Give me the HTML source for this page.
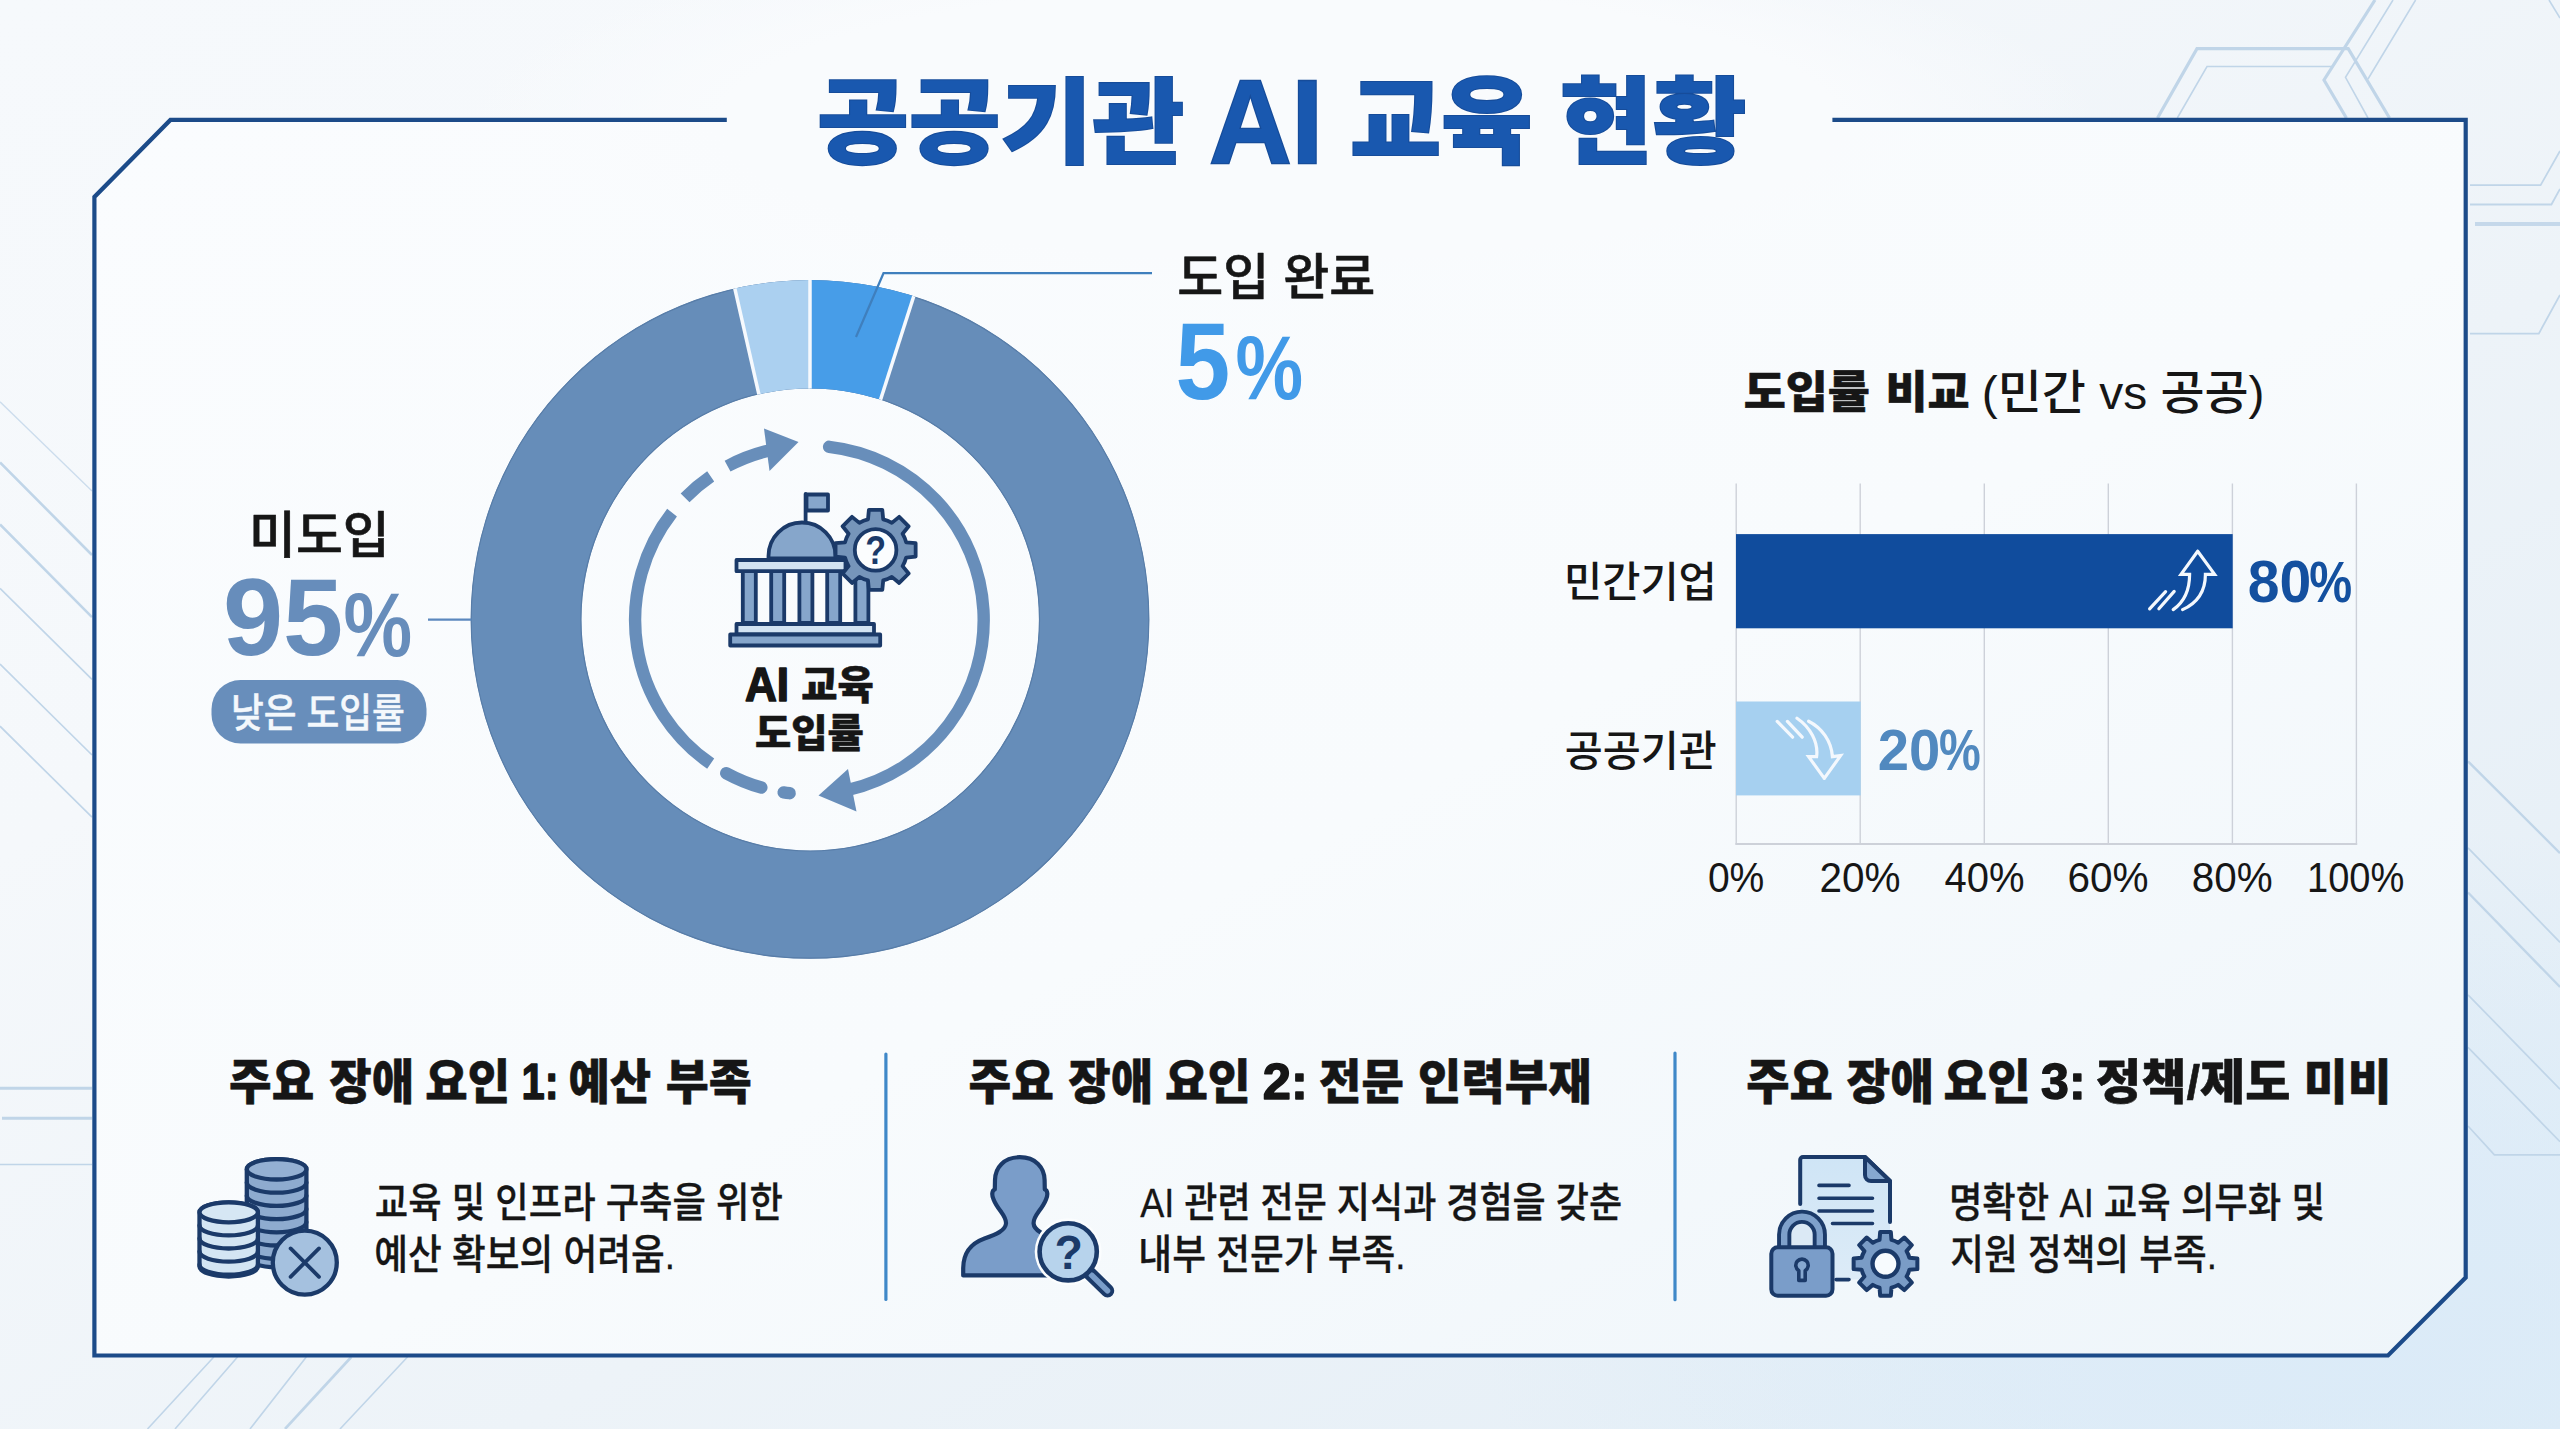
<!DOCTYPE html>
<html lang="ko">
<head>
<meta charset="utf-8">
<title>공공기관 AI 교육 현황</title>
<style>
html,body{margin:0;padding:0;background:#f1f6fa;overflow:hidden}
svg{display:block}
text{font-family:"Liberation Sans", "Noto Sans CJK KR", sans-serif;}
</style>
</head>
<body>
<svg width="2560" height="1429" viewBox="0 0 2560 1429">
<defs>
<linearGradient id="bgG" x1="0" y1="0" x2="1" y2="1">
<stop offset="0" stop-color="#f6f9fc"/><stop offset="0.3" stop-color="#f5f8fb"/><stop offset="0.6" stop-color="#edf3f8"/><stop offset="1" stop-color="#e2edf6"/>
</linearGradient>
<linearGradient id="panelG" x1="0" y1="0" x2="1" y2="1">
<stop offset="0" stop-color="#fafcfe"/><stop offset="0.55" stop-color="#f8fbfd"/><stop offset="1" stop-color="#eef5fa"/>
</linearGradient>
<radialGradient id="titleG" cx="0.5" cy="0.5" r="0.5">
<stop offset="0" stop-color="#f9fbfd" stop-opacity="1"/><stop offset="0.68" stop-color="#f9fbfd" stop-opacity="1"/><stop offset="1" stop-color="#f9fbfd" stop-opacity="0"/>
</radialGradient>
<radialGradient id="glowG" cx="0.93" cy="0.93" r="0.35">
<stop offset="0" stop-color="#d9eaf8" stop-opacity="0.8"/><stop offset="1" stop-color="#d3e8f8" stop-opacity="0"/>
</radialGradient>
</defs>
<rect width="2560" height="1429" fill="url(#bgG)"/>
<rect width="2560" height="1429" fill="url(#glowG)"/>
<g id="deco" fill="none" stroke="#c0d5e8" stroke-linecap="butt">
<path d="M2157.5 118L2197 48.6H2348.2L2389.5 118M2375 0L2324 80L2346.4 118" stroke-width="3.2"/>
<path d="M2177.3 118L2207 66.5H2332M2393 0L2345.5 77.3L2368 118M2415.6 0L2368 79" stroke-width="1.6"/>
<path d="M2549 0L2560 18" stroke-width="1.6"/>
<path d="M2470 185.2H2540.6L2560 151M2470 204.5H2551.4L2560 189M2470 333.6H2538.8L2560 295" stroke-width="1.8"/>
<path d="M2475 224H2560" stroke-width="4" opacity="0.9"/>
<path d="M0 401.8L92 491" stroke-width="1.3" opacity="0.8"/>
<path d="M0 462.4L92 555M0 524.5L92 617.2" stroke-width="2.6"/>
<path d="M0 588.4L92 679.4M0 664L92 755M0 726.2L92 817.2" stroke-width="1.7"/>
<path d="M0 1088.3H92M2 1118.3H92" stroke-width="3"/>
<path d="M0 1164.5H92" stroke-width="1.6"/>
<path d="M213.8 1357L147.5 1429M237.5 1357L175 1429M306.3 1357L250 1429M407.5 1357L340 1429" stroke-width="1.6"/>
<path d="M351.3 1357L285 1429" stroke-width="2.6"/>
<path d="M2468 761.3L2560 853.1M2468 892.5L2560 986.9" stroke-width="2.4"/>
<path d="M2468 847.9L2560 942.3M2468 994.8L2560 1089.2M2468 1047.3L2560 1141.7M2468 1126L2494.4 1154.8H2560" stroke-width="1.7"/>
</g>

<polygon points="170.4,119.9 2465.7,119.9 2465.7,1277.6 2388,1355.5 94.4,1355.5 94.4,196.9" fill="url(#panelG)"/>
<ellipse cx="1280" cy="122" rx="820" ry="200" fill="url(#titleG)"/>
<path d="M726.8 119.9H170.4L94.4 196.9V1355.5H2388L2465.7 1277.6V119.9H1832.4" fill="none" stroke="#1c4b89" stroke-width="4.2" stroke-linejoin="miter"/>

<g id="donut">
<defs><clipPath id="ringClip"><path d="M470.6 619.4A339.4 339.4 0 1 1 1149.4 619.4A339.4 339.4 0 1 1 470.6 619.4ZM581.5 619.5A228.7 230.8 0 1 0 1038.9 619.5A228.7 230.8 0 1 0 581.5 619.5Z" clip-rule="evenodd"/></clipPath></defs>
<g clip-path="url(#ringClip)">
<path d="M470.6 619.4A339.4 339.4 0 1 1 1149.4 619.4A339.4 339.4 0 1 1 470.6 619.4ZM581.5 619.5A228.7 230.8 0 1 0 1038.9 619.5A228.7 230.8 0 1 0 581.5 619.5Z" fill-rule="evenodd" fill="#668db9" stroke="#587da8" stroke-width="2.4"/>
<path d="M810.0 619.4L716.95 209.84L810.00 199.40Z" fill="#abd0f0"/>
<path d="M810.0 619.4L810.00 199.40L938.39 219.51Z" fill="#479de8"/>
<line x1="810.0" y1="619.4" x2="716.95" y2="209.84" stroke="#f6f9fd" stroke-width="3.5"/>
<line x1="810.0" y1="619.4" x2="810.00" y2="199.40" stroke="#f6f9fd" stroke-width="3.5"/>
<line x1="810.0" y1="619.4" x2="938.39" y2="219.51" stroke="#f6f9fd" stroke-width="3.5"/>
</g>
<path d="M1152 273.2H883.5L856 337" fill="none" stroke="#3f7fbd" stroke-width="2.2"/>
<line x1="428" y1="619.6" x2="471.5" y2="619.6" stroke="#5b88be" stroke-width="2.2"/>
<g fill="none" stroke="#688eba" stroke-width="12.4">
<path d="M829.13 446.82A174.3 174.3 0 0 1 848.61 789.83" stroke-linecap="round"/>
<path d="M710.68 763.65A174.3 174.3 0 0 1 672.05 512.69"/>
<path d="M761.36 787.55A174.3 174.3 0 0 1 726.23 773.18" stroke-linecap="round"/>
<path d="M789.67 793.18A174.3 174.3 0 0 1 783.64 792.39" stroke-linecap="round"/>
<path d="M685.08 497.83A174.3 174.3 0 0 1 710.68 476.35"/>
<path d="M727.57 466.10A174.3 174.3 0 0 1 770.19 450.17"/>
</g>
<polygon points="798.5,442 764,428.5 769.5,471" fill="#688eba"/>
<polygon points="818.5,795.5 848,769 856.5,811.5" fill="#688eba"/>
<rect x="211.5" y="680" width="215" height="63.4" rx="29" ry="29" fill="#688ebb"/>
</g>

<g id="chart">
<line x1="1736.2" y1="483.5" x2="1736.2" y2="844.5" stroke="#cdd1d9" stroke-width="1.4"/>
<line x1="1860.2" y1="483.5" x2="1860.2" y2="844.5" stroke="#cdd1d9" stroke-width="1.4"/>
<line x1="1984.3" y1="483.5" x2="1984.3" y2="844.5" stroke="#cdd1d9" stroke-width="1.4"/>
<line x1="2108.3" y1="483.5" x2="2108.3" y2="844.5" stroke="#cdd1d9" stroke-width="1.4"/>
<line x1="2232.4" y1="483.5" x2="2232.4" y2="844.5" stroke="#cdd1d9" stroke-width="1.4"/>
<line x1="2356.4" y1="483.5" x2="2356.4" y2="844.5" stroke="#cdd1d9" stroke-width="1.4"/>
<line x1="1735.4" y1="844" x2="2357.2" y2="844" stroke="#cdd1d9" stroke-width="1.8"/>
<rect x="1736" y="534.1" width="496.7" height="94.2" fill="#104c9d"/>
<rect x="1736" y="701.5" width="124.7" height="93.9" fill="#a6d0f0"/>
</g>
<line x1="885.9" y1="1054" x2="885.9" y2="1299.5" stroke="#3f88c8" stroke-width="3.2" stroke-linecap="round"/>
<line x1="1675" y1="1053" x2="1675" y2="1299.7" stroke="#3f88c8" stroke-width="3.2" stroke-linecap="round"/>

<g id="ic-building" stroke="#1b3a69" stroke-width="3.8" stroke-linejoin="round" stroke-linecap="round">
<line x1="805.6" y1="494" x2="805.6" y2="523" />
<rect x="806.5" y="494.5" width="21.5" height="16" fill="#86a6cb"/>
<path d="M768.5 558.5V556A33.5 33.5 0 0 1 835.5 556V558.5Z" fill="#86a6cb"/>
<rect x="742.8" y="571" width="13" height="52" fill="#86a6cb"/>
<rect x="771.2" y="571" width="13" height="52" fill="#86a6cb"/>
<rect x="799.4" y="571" width="13" height="52" fill="#86a6cb"/>
<rect x="827.2" y="571" width="13" height="52" fill="#86a6cb"/>
<rect x="855.4" y="571" width="13" height="52" fill="#86a6cb"/>
<rect x="736.5" y="560" width="109" height="11.2" fill="#d2e3f2"/>
<rect x="736.5" y="624" width="137.5" height="10.5" fill="#d2e3f2"/>
<rect x="730.2" y="634.5" width="150" height="11" fill="#86a6cb"/>
<path d="M867.98 519.34L868.90 509.86L882.30 509.86L883.22 519.34A31.5 31.5 0 0 1 891.82 522.90L899.18 516.85L908.65 526.32L902.60 533.68A31.5 31.5 0 0 1 906.16 542.28L915.64 543.20L915.64 556.60L906.16 557.52A31.5 31.5 0 0 1 902.60 566.12L908.65 573.48L899.18 582.95L891.82 576.90A31.5 31.5 0 0 1 883.22 580.46L882.30 589.94L868.90 589.94L867.98 580.46A31.5 31.5 0 0 1 859.38 576.90L852.02 582.95L842.55 573.48L848.60 566.12A31.5 31.5 0 0 1 845.04 557.52L835.56 556.60L835.56 543.20L845.04 542.28A31.5 31.5 0 0 1 848.60 533.68L842.55 526.32L852.02 516.85L859.38 522.90A31.5 31.5 0 0 1 867.98 519.34Z" fill="#7695ba"/>
<circle cx="875.6" cy="549.9" r="20.8" fill="#fbfdfe"/>
</g>
<text transform="translate(875.60 564.00) scale(0.82 1)" text-anchor="middle" font-weight="700" font-size="41.48" fill="#1b3a69" stroke="none">?</text>
<g id="ic-coins" stroke="#1b3a69" stroke-width="4.3" stroke-linejoin="round" stroke-linecap="round">
<path d="M246.8 1169.3V1257A29.8 10.2 0 0 0 306.40000000000003 1257V1169.3A29.8 10.2 0 0 0 246.8 1169.3Z" fill="#8eabcf"/>
<ellipse cx="276.6" cy="1169.3" rx="29.8" ry="10.2" fill="#94b0d3"/>
<path d="M246.8 1182.5A29.8 10.2 0 0 0 306.40000000000003 1182.5" fill="none"/>
<path d="M246.8 1195.7A29.8 10.2 0 0 0 306.40000000000003 1195.7" fill="none"/>
<path d="M246.8 1208.8999999999999A29.8 10.2 0 0 0 306.40000000000003 1208.8999999999999" fill="none"/>
<path d="M246.8 1222.1A29.8 10.2 0 0 0 306.40000000000003 1222.1" fill="none"/>
<path d="M246.8 1235.3A29.8 10.2 0 0 0 306.40000000000003 1235.3" fill="none"/>
<path d="M246.8 1248.5A29.8 10.2 0 0 0 306.40000000000003 1248.5" fill="none"/>
<path d="M199.5 1212.3V1266.5A29.2 10.0 0 0 0 257.9 1266.5V1212.3A29.2 10.0 0 0 0 199.5 1212.3Z" fill="#d3e5f3"/>
<ellipse cx="228.7" cy="1212.3" rx="29.2" ry="10.0" fill="#d6e7f4"/>
<path d="M199.5 1225.3999999999999A29.2 10.0 0 0 0 257.9 1225.3999999999999" fill="none"/>
<path d="M199.5 1238.5A29.2 10.0 0 0 0 257.9 1238.5" fill="none"/>
<path d="M199.5 1251.6A29.2 10.0 0 0 0 257.9 1251.6" fill="none"/>
<path d="M199.5 1264.7A29.2 10.0 0 0 0 257.9 1264.7" fill="none"/>
<circle cx="304.8" cy="1262.6" r="32" fill="#a5c1df"/>
<path d="M290.6 1248.4L319 1276.8M319 1248.4L290.6 1276.8" fill="none" stroke-width="3.8"/>
</g>
<g id="ic-person" stroke="#1b3a69" stroke-width="4.2" stroke-linejoin="round" stroke-linecap="round">
<path d="M1019.8 1157.2C1004 1157.2 995.2 1167.5 995 1180 L994.8 1189.5C991.8 1190.2 991.6 1195.5 993.6 1199.5 C995.5 1204.5 998.6 1208.5 1001.2 1212 C1004.5 1216.5 1006.2 1220 1006 1223.5 C1005.5 1230.5 996 1234.5 984.5 1238.5 C971 1243.5 963.4 1252 963.2 1268 L963.2 1275.4 H1076.4 L1076.4 1268 C1076.2 1252 1068.6 1243.5 1055.1 1238.5 C1043.6 1234.5 1034.1 1230.5 1033.6 1223.5 C1033.4 1220 1035.1 1216.5 1038.4 1212 C1041 1208.5 1044.1 1204.5 1046 1199.5 C1048 1195.5 1047.8 1190.2 1044.8 1189.5 L1044.6 1180 C1044.4 1167.5 1035.6 1157.2 1019.8 1157.2Z" fill="#7a9dc9"/>
<circle cx="1068.2" cy="1251.8" r="33.5" fill="#fbfdfe" stroke="none"/>
<line x1="1089" y1="1272.6" x2="1107.5" y2="1290.8" stroke="#1b3a69" stroke-width="13.5"/>
<line x1="1091.5" y1="1275.1" x2="1107.5" y2="1290.8" stroke="#7a9dc9" stroke-width="5.6"/>
<circle cx="1068.2" cy="1251.8" r="28.6" fill="#b7d3ec" stroke-width="4.6"/>
<text transform="translate(1068.60 1268.50) scale(0.95 1)" text-anchor="middle" font-weight="700" font-size="48.89" fill="#1b3a69" stroke="none">?</text>
</g>
<g id="ic-doc" stroke="#1b3a69" stroke-width="4.0" stroke-linejoin="round" stroke-linecap="round">
<defs><linearGradient id="docG" x1="0" y1="0" x2="0" y2="1"><stop offset="0" stop-color="#cfe5f6"/><stop offset="1" stop-color="#dcebf7"/></linearGradient></defs>
<path d="M1803 1157H1865L1890 1181V1279.6H1800.2V1159.8A2.8 2.8 0 0 1 1803 1157Z" fill="url(#docG)" stroke="none"/>
<path d="M1800.2 1204V1159.8A2.8 2.8 0 0 1 1803 1157H1865L1890 1181V1222" fill="none"/>
<path d="M1865 1157V1175A6 6 0 0 0 1871 1181H1890Z" fill="#86a8d0"/>
<path d="M1819 1185.4H1849M1819 1198.3H1872.5M1819 1211H1872.5M1832.5 1223.5H1872.5M1836 1279.6H1849" fill="none" stroke-width="3.6"/>
<path d="M1784.2 1249V1234.5A17.8 17.8 0 0 1 1819.8 1234.5V1249Z" fill="#dbe9f5" stroke="none"/>
<path d="M1784.2 1248V1234.5A17.8 17.8 0 0 1 1819.8 1234.5V1248" fill="none" stroke-width="14.2"/>
<path d="M1784.2 1249V1234.5A17.8 17.8 0 0 1 1819.8 1234.5V1249" fill="none" stroke="#7fa1cb" stroke-width="6.4" stroke-linecap="butt"/>
<rect x="1771.3" y="1247.3" width="61.2" height="48.4" rx="6.5" fill="#7a9dc9"/>
<path d="M1798.8 1270.6A6.2 6.2 0 1 1 1805.2 1270.6V1280.4H1798.8Z" fill="#86a8d0" stroke-width="3.6"/>
<path d="M1879.55 1239.93L1880.17 1231.94L1890.83 1231.94L1891.45 1239.93A24.6 24.6 0 0 1 1898.17 1242.71L1904.26 1237.50L1911.80 1245.04L1906.59 1251.13A24.6 24.6 0 0 1 1909.37 1257.85L1917.36 1258.47L1917.36 1269.13L1909.37 1269.75A24.6 24.6 0 0 1 1906.59 1276.47L1911.80 1282.56L1904.26 1290.10L1898.17 1284.89A24.6 24.6 0 0 1 1891.45 1287.67L1890.83 1295.66L1880.17 1295.66L1879.55 1287.67A24.6 24.6 0 0 1 1872.83 1284.89L1866.74 1290.10L1859.20 1282.56L1864.41 1276.47A24.6 24.6 0 0 1 1861.63 1269.75L1853.64 1269.13L1853.64 1258.47L1861.63 1257.85A24.6 24.6 0 0 1 1864.41 1251.13L1859.20 1245.04L1866.74 1237.50L1872.83 1242.71A24.6 24.6 0 0 1 1879.55 1239.93Z" fill="#7a9cc6"/>
<circle cx="1885.5" cy="1263.8" r="13" fill="#f7fbfe" stroke-width="4.4"/>
</g>
<g id="ic-arrows" fill="none" stroke="#f4f8fd" stroke-width="3.2" stroke-linejoin="miter" stroke-linecap="round">
<path d="M2197.7 551.2L2181 574.4H2189.6C2189.6 590 2184 602 2173.2 609.6M2182.6 609.6C2197 603 2205.4 591 2205.4 574.4H2214.6L2197.7 551.2"/>
<path d="M2149.6 608.8L2165.6 591.6M2158.9 608.8L2174.2 591.4"/>
<path d="M1824.3 778.4L1808.6 756.6H1816.6C1818.6 742 1810 727 1797 718.2M1808.6 721.2C1822 728 1831.4 741 1832.4 756.6L1840.6 755.6L1824.3 778.4"/>
<path d="M1777.2 721.4L1792.6 737.2M1787.4 721.4L1802.2 737.2"/>
</g>

<g id="texts">
<g><text transform="translate(816.90 156.29) scale(1.0752 1)" font-weight="900" font-size="92.85" fill="#1958af" stroke="#164c9a" stroke-width="2.04" stroke-linejoin="miter" paint-order="stroke">공공기관</text><text transform="translate(1209.16 162.61) scale(0.9536 1)" font-weight="700" font-size="119.44" fill="#1958af" stroke="#164c9a" stroke-width="2.63" stroke-linejoin="miter" paint-order="stroke">AI</text><text transform="translate(1350.02 156.00) scale(1.0386 1)" font-weight="900" font-size="95.47" fill="#1958af" stroke="#164c9a" stroke-width="2.10" stroke-linejoin="miter" paint-order="stroke">교육</text><text transform="translate(1559.76 156.10) scale(1.0719 1)" font-weight="900" font-size="94.54" fill="#1958af" stroke="#164c9a" stroke-width="2.08" stroke-linejoin="miter" paint-order="stroke">현황</text></g>
<text transform="translate(1177.20 294.64) scale(1.0123 1)" font-weight="500" font-size="49.46" fill="#161616" stroke="#161616" stroke-width="0.59" stroke-linejoin="round" paint-order="stroke">도입 완료</text>
<g><text transform="translate(1175.55 398.90) scale(0.8934 1)" font-weight="700" font-size="110.14" fill="#419ae8">5</text><text transform="translate(1235.40 398.70) scale(0.8446 1)" font-weight="700" font-size="90.07" fill="#419ae8">%</text></g>
<text transform="translate(248.90 552.58) scale(1.0172 1)" font-weight="500" font-size="50.22" fill="#161616" stroke="#161616" stroke-width="0.60" stroke-linejoin="round" paint-order="stroke">미도입</text>
<g><text transform="translate(222.91 655.41) scale(0.9963 1)" font-weight="700" font-size="108.59" fill="#678dbb">95</text><text transform="translate(343.47 655.59) scale(0.8524 1)" font-weight="700" font-size="90.64" fill="#678dbb">%</text></g>
<text transform="translate(230.95 727.24) scale(0.9004 1)" font-weight="500" font-size="39.57" fill="#f4f8fc" stroke="#f4f8fc" stroke-width="0.47" stroke-linejoin="round" paint-order="stroke">낮은 도입률</text>
<g><text transform="translate(744.96 700.75) scale(0.9251 1)" font-weight="700" font-size="47.72" fill="#161616" stroke="#161616" stroke-width="1.67" stroke-linejoin="round" paint-order="stroke">AI</text><text transform="translate(801.22 698.96) scale(0.9978 1)" font-weight="900" font-size="39.47" fill="#161616" stroke="#161616" stroke-width="0.59" stroke-linejoin="round" paint-order="stroke">교육</text></g>
<text transform="translate(754.92 746.64) scale(1.0210 1)" font-weight="900" font-size="38.63" fill="#161616" stroke="#161616" stroke-width="0.58" stroke-linejoin="round" paint-order="stroke">도입률</text>
<text transform="translate(1743.63 408.25) scale(1.0340 1)" font-weight="900" font-size="44.27" fill="#161616" stroke="#161616" stroke-width="0.53" stroke-linejoin="round" paint-order="stroke" word-spacing="2.76">도입률 비교</text>
<text transform="translate(1981.72 409.30) scale(1.0377 1)" font-weight="500" font-size="46.20" fill="#161616">(민간 vs 공공)</text>
<text transform="translate(1563.95 597.26) scale(0.9982 1)" font-weight="500" font-size="41.63" fill="#161616">민간기업</text>
<text transform="translate(1564.64 765.52) scale(0.9819 1)" font-weight="500" font-size="42.07" fill="#161616">공공기관</text>
<g><text transform="translate(2247.69 601.82) scale(0.9795 1)" font-weight="700" font-size="58.31" fill="#14509f">80</text><text transform="translate(2309.29 601.82) scale(0.8270 1)" font-weight="700" font-size="58.30" fill="#14509f">%</text></g>
<g><text transform="translate(1877.73 770.12) scale(0.9714 1)" font-weight="700" font-size="57.89" fill="#5189bf">20</text><text transform="translate(1939.03 769.92) scale(0.8145 1)" font-weight="700" font-size="57.59" fill="#5189bf">%</text></g>
<text transform="translate(1707.89 892.07) scale(0.9151 1)" font-weight="400" font-size="42.68" fill="#161616">0%</text>
<text transform="translate(1819.41 892.07) scale(0.9495 1)" font-weight="400" font-size="42.68" fill="#161616">20%</text>
<text transform="translate(1944.48 892.07) scale(0.9373 1)" font-weight="400" font-size="42.68" fill="#161616">40%</text>
<text transform="translate(2067.49 892.07) scale(0.9495 1)" font-weight="400" font-size="42.68" fill="#161616">60%</text>
<text transform="translate(2191.74 892.07) scale(0.9471 1)" font-weight="400" font-size="42.68" fill="#161616">80%</text>
<text transform="translate(2307.05 892.07) scale(0.8913 1)" font-weight="400" font-size="42.68" fill="#161616">100%</text>
<g><text transform="translate(229.11 1099.00) scale(0.9583 1)" font-weight="900" font-size="48.25" fill="#161616" stroke="#161616" stroke-width="0.58" stroke-linejoin="round" paint-order="stroke">주요</text><text transform="translate(329.24 1099.00) scale(0.9562 1)" font-weight="900" font-size="48.25" fill="#161616" stroke="#161616" stroke-width="0.58" stroke-linejoin="round" paint-order="stroke">장애</text><text transform="translate(425.32 1099.00) scale(0.9553 1)" font-weight="900" font-size="48.25" fill="#161616" stroke="#161616" stroke-width="0.58" stroke-linejoin="round" paint-order="stroke">요인</text><text transform="translate(521.61 1099.00) scale(0.8312 1)" font-weight="700" font-size="50.18" fill="#161616" stroke="#161616" stroke-width="1.51" stroke-linejoin="round" paint-order="stroke">1:</text><text transform="translate(568.53 1099.00) scale(0.9312 1)" font-weight="900" font-size="48.25" fill="#161616" stroke="#161616" stroke-width="0.58" stroke-linejoin="round" paint-order="stroke">예산</text><text transform="translate(665.80 1099.00) scale(0.9699 1)" font-weight="900" font-size="48.25" fill="#161616" stroke="#161616" stroke-width="0.58" stroke-linejoin="round" paint-order="stroke">부족</text></g>
<g><text transform="translate(968.61 1099.00) scale(0.9606 1)" font-weight="900" font-size="48.25" fill="#161616" stroke="#161616" stroke-width="0.58" stroke-linejoin="round" paint-order="stroke">주요</text><text transform="translate(1068.34 1099.00) scale(0.9562 1)" font-weight="900" font-size="48.25" fill="#161616" stroke="#161616" stroke-width="0.58" stroke-linejoin="round" paint-order="stroke">장애</text><text transform="translate(1164.90 1099.00) scale(0.9672 1)" font-weight="900" font-size="48.25" fill="#161616" stroke="#161616" stroke-width="0.58" stroke-linejoin="round" paint-order="stroke">요인</text><text transform="translate(1262.79 1099.00) scale(1.0090 1)" font-weight="700" font-size="50.18" fill="#161616" stroke="#161616" stroke-width="1.51" stroke-linejoin="round" paint-order="stroke">2:</text><text transform="translate(1319.08 1099.00) scale(0.9552 1)" font-weight="900" font-size="48.25" fill="#161616" stroke="#161616" stroke-width="0.58" stroke-linejoin="round" paint-order="stroke">전문</text><text transform="translate(1418.11 1099.00) scale(0.9772 1)" font-weight="900" font-size="48.25" fill="#161616" stroke="#161616" stroke-width="0.58" stroke-linejoin="round" paint-order="stroke">인력부재</text></g>
<g><text transform="translate(1746.29 1099.00) scale(0.9757 1)" font-weight="900" font-size="48.25" fill="#161616" stroke="#161616" stroke-width="0.58" stroke-linejoin="round" paint-order="stroke">주요</text><text transform="translate(1846.52 1099.00) scale(0.9868 1)" font-weight="900" font-size="48.25" fill="#161616" stroke="#161616" stroke-width="0.58" stroke-linejoin="round" paint-order="stroke">장애</text><text transform="translate(1943.58 1099.00) scale(0.9815 1)" font-weight="900" font-size="48.25" fill="#161616" stroke="#161616" stroke-width="0.58" stroke-linejoin="round" paint-order="stroke">요인</text><text transform="translate(2041.10 1099.00) scale(0.9964 1)" font-weight="700" font-size="50.18" fill="#161616" stroke="#161616" stroke-width="1.51" stroke-linejoin="round" paint-order="stroke">3:</text><text transform="translate(2096.02 1099.00) scale(1.0182 1)" font-weight="900" font-size="48.25" fill="#161616" stroke="#161616" stroke-width="0.58" stroke-linejoin="round" paint-order="stroke">정책/제도</text><text transform="translate(2303.86 1099.00) scale(0.9886 1)" font-weight="900" font-size="48.25" fill="#161616" stroke="#161616" stroke-width="0.58" stroke-linejoin="round" paint-order="stroke">미비</text></g>
<text transform="translate(374.85 1216.60) scale(0.8906 1)" font-weight="500" font-size="40.80" fill="#161616" stroke="#161616" stroke-width="0.29" stroke-linejoin="round" paint-order="stroke">교육 및 인프라 구축을 위한</text>
<text transform="translate(374.28 1268.70) scale(0.9003 1)" font-weight="500" font-size="40.80" fill="#161616" stroke="#161616" stroke-width="0.29" stroke-linejoin="round" paint-order="stroke">예산 확보의 어려움.</text>
<text transform="translate(1140.20 1216.60) scale(0.8833 1)" font-weight="500" font-size="40.80" fill="#161616" stroke="#161616" stroke-width="0.29" stroke-linejoin="round" paint-order="stroke">AI 관련 전문 지식과 경험을 갖춘</text>
<text transform="translate(1138.36 1268.70) scale(0.9004 1)" font-weight="500" font-size="40.80" fill="#161616" stroke="#161616" stroke-width="0.29" stroke-linejoin="round" paint-order="stroke">내부 전문가 부족.</text>
<text transform="translate(1948.89 1216.60) scale(0.8919 1)" font-weight="500" font-size="40.80" fill="#161616" stroke="#161616" stroke-width="0.29" stroke-linejoin="round" paint-order="stroke">명확한 AI 교육 의무화 및</text>
<text transform="translate(1950.33 1268.70) scale(0.8984 1)" font-weight="500" font-size="40.80" fill="#161616" stroke="#161616" stroke-width="0.29" stroke-linejoin="round" paint-order="stroke">지원 정책의 부족.</text>
</g>
</svg>
</body>
</html>
